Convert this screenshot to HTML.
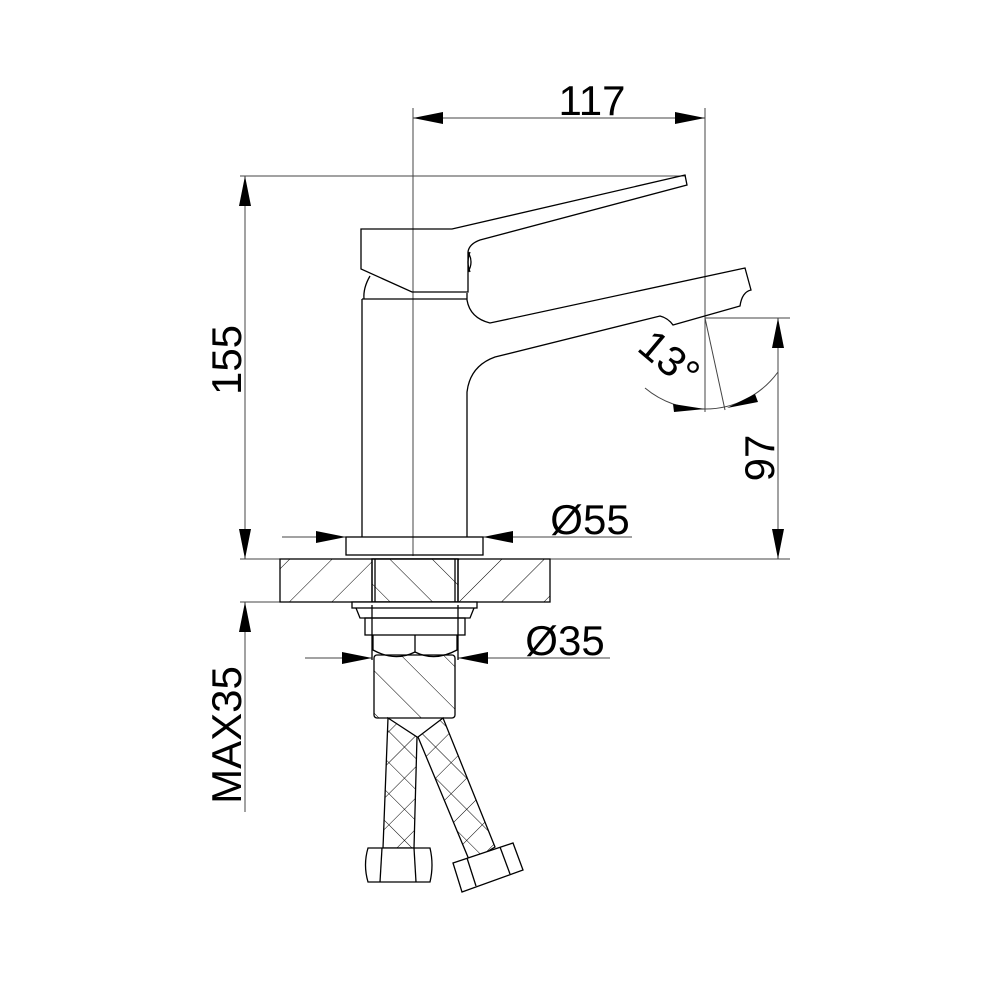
<!DOCTYPE html>
<html><head><meta charset="utf-8"><style>html,body{margin:0;padding:0;background:#fff}svg{display:block}</style></head>
<body>
<svg width="1000" height="1000" viewBox="0 0 1000 1000" xmlns="http://www.w3.org/2000/svg" font-family="Liberation Sans, sans-serif">
<defs>
<pattern id="hA" width="30" height="30" patternUnits="userSpaceOnUse" patternTransform="rotate(45)">
<line x1="0" y1="0" x2="0" y2="30" stroke="#000" stroke-width="1"/></pattern>
<pattern id="hB" width="30" height="30" patternUnits="userSpaceOnUse" patternTransform="rotate(-45)">
<line x1="0" y1="0" x2="0" y2="30" stroke="#000" stroke-width="1"/></pattern>
<pattern id="hX" width="22" height="22" patternUnits="userSpaceOnUse" patternTransform="rotate(45)">
<line x1="0" y1="0" x2="0" y2="22" stroke="#000" stroke-width="1"/><line x1="0" y1="0" x2="22" y2="0" stroke="#000" stroke-width="1"/></pattern>
</defs>
<g fill="none" stroke="#000" stroke-width="1.3">
<g stroke-width="1" stroke="#444">
<line x1="413" y1="108" x2="413" y2="556"/>
<line x1="705" y1="108" x2="705" y2="412"/>
<line x1="240" y1="176" x2="686" y2="176"/>
<line x1="240" y1="559" x2="790" y2="559"/>
<line x1="240" y1="602" x2="282" y2="602"/>
<line x1="705" y1="318" x2="790" y2="318"/>
<line x1="245" y1="176" x2="245" y2="559"/>
<line x1="245" y1="602" x2="245" y2="812"/>
<line x1="778" y1="318" x2="778" y2="559"/>
<line x1="413" y1="118" x2="705" y2="118"/>
<line x1="282" y1="537" x2="346" y2="537"/>
<line x1="483" y1="537" x2="632" y2="537"/>
<line x1="305" y1="658" x2="372" y2="658"/>
<line x1="458" y1="658" x2="610" y2="658"/>
<line x1="705" y1="318" x2="725" y2="410"/>
<path d="M645 388 A90 90 0 0 0 705 409 A90 90 0 0 0 778 372"/>
</g>
<path d="M361 229 L452 229 L685 175 L687 185 L480 240 Q469 244 468 252 L468 292 L412 292 L361 269 Z"/>
<path d="M470 252 Q466 262 470 272 M468 252 Q474 262 468 272"/>
<path d="M370 276 Q363 288 364 299"/>
<path d="M362 299 L467 299 M362 299 L362 537 M467 293 L467 300 Q470 318 490 323 L745 268 L751 290 Q742 292 740 306 L673 325 Q668 318 660 316 L495 357 Q470 366 467 392 L467 537"/>
<rect x="346" y="537" width="137" height="18"/>
<rect x="280" y="559" width="270" height="43" fill="url(#hA)"/>
<rect x="372" y="559" width="86" height="43" fill="#fff"/>
<rect x="372" y="559" width="86" height="43" fill="url(#hB)"/>
<line x1="375" y1="559" x2="375" y2="602"/>
<line x1="455" y1="559" x2="455" y2="602"/>
<rect x="352" y="602" width="125" height="6" fill="#fff"/>
<path d="M356 608 L360 618 L470 618 L474 608"/>
<rect x="365" y="618" width="100" height="17"/>
<path d="M373 635 L373 650 Q395 662 415 652 Q435 662 457 650 L457 635"/>
<line x1="415" y1="635" x2="415" y2="652"/>
<line x1="372" y1="605" x2="372" y2="660"/><line x1="458" y1="605" x2="458" y2="660"/>
<rect x="374" y="655" width="81" height="63" rx="3" fill="url(#hB)" />
<path d="M388 718 L383 848 L414 848 L417 737 Z" fill="url(#hX)"/>
<path d="M418 737 L443 718 L495 847 L470 862 Z" fill="url(#hX)"/>
<path d="M368 848 L430 848 Q434 865 430 882 L368 882 Q363 865 368 848 Z" fill="#fff"/>
<line x1="382" y1="848" x2="380" y2="882"/><line x1="414" y1="848" x2="416" y2="882"/>
<path d="M453 863 L513 843 L523 870 L462 892 Z" fill="#fff"/>
<line x1="467" y1="858" x2="476" y2="886"/><line x1="500" y1="847" x2="510" y2="874"/>
</g>
<g fill="#000">
<polygon points="413,118 443,112 443,124"/>
<polygon points="705,118 675,112 675,124"/>
<polygon points="245,176 239,206 251,206"/>
<polygon points="245,559 239,529 251,529"/>
<polygon points="245,602 239,632 251,632"/>
<polygon points="778,318 772,348 784,348"/>
<polygon points="778,559 772,529 784,529"/>
<polygon points="346,537 316,531 316,543"/>
<polygon points="483,537 513,531 513,543"/>
<polygon points="372,658 342,652 342,664"/>
<polygon points="458,658 488,652 488,664"/>
<polygon points="705,409 673,404 674,412"/>
<polygon points="727,408 755,394 758,402"/>
</g>
<g font-size="42" fill="#000">
<text x="592" y="115" text-anchor="middle">117</text>
<text x="590" y="534" text-anchor="middle">Ø55</text>
<text x="565" y="655" text-anchor="middle">Ø35</text>
<text transform="translate(241,360) rotate(-90)" text-anchor="middle">155</text>
<text transform="translate(241,735) rotate(-90)" text-anchor="middle">MAX35</text>
<text transform="translate(774,458) rotate(-90)" text-anchor="middle">97</text>
<text transform="translate(660,370) rotate(40)" text-anchor="middle">13°</text>
</g>
</svg>
</body></html>
